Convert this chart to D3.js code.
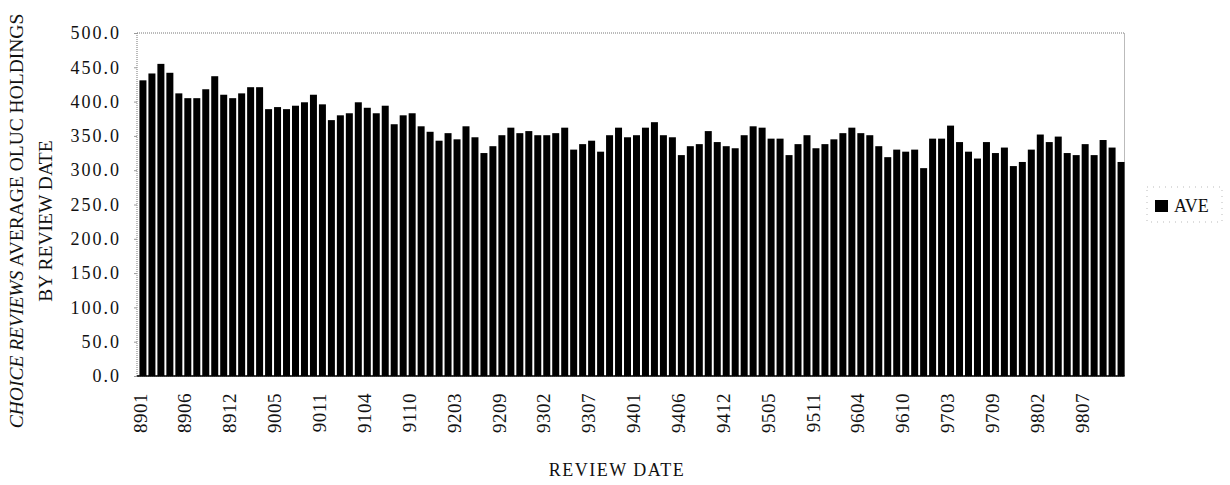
<!DOCTYPE html>
<html>
<head>
<meta charset="utf-8">
<script src="https://cdn.jsdelivr.net/npm/d3@7"></script>
<style>
  body { margin: 0; background: #fff; }
  text { font-family: "Liberation Serif", "DejaVu Serif", serif; fill: #111; }
</style>
</head>
<body>
<svg></svg>
<script>
// review dates (Choice issues, 11 per year, no August issue)
const dates = [
    "8901","8902","8903","8904","8905","8906","8907","8909","8910","8911","8912",
    "9001","9002","9003","9004","9005","9006","9007","9009","9010","9011","9012",
    "9101","9102","9103","9104","9105","9106","9107","9109","9110","9111","9112",
    "9201","9202","9203","9204","9205","9206","9207","9209","9210","9211","9212",
    "9301","9302","9303","9304","9305","9306","9307","9309","9310","9311","9312",
    "9401","9402","9403","9404","9405","9406","9407","9409","9410","9411","9412",
    "9501","9502","9503","9504","9505","9506","9507","9509","9510","9511","9512",
    "9601","9602","9603","9604","9605","9606","9607","9609","9610","9611","9612",
    "9701","9702","9703","9704","9705","9706","9707","9709","9710","9711","9712",
    "9801","9802","9803","9804","9805","9806","9807","9809","9810","9811","9812"
];

// average OLUC holdings (AVE)
const ave = [
    431, 441, 455, 442, 412, 405, 405, 418, 437, 410,
    405, 412, 421, 421, 389, 392, 389, 394, 399, 410,
    396, 373, 380, 383, 399, 391, 383, 394, 367, 380,
    383, 364, 356, 343, 354, 345, 364, 348, 325, 335,
    351, 362, 354, 357, 351, 351, 354, 362, 330, 338,
    343, 327, 351, 362, 348, 351, 362, 370, 351, 348,
    322, 335, 338, 357, 341, 335, 332, 351, 364, 362,
    346, 346, 322, 338, 351, 332, 338, 345, 354, 362,
    354, 351, 335, 319, 330, 327, 330, 303, 346, 346,
    365, 341, 327, 317, 341, 325, 333, 306, 312, 330,
    352, 341, 349, 325, 322, 338, 322, 344, 333, 312
];

const xTickLabels = ["8901","8906","8912","9005","9011","9104","9110","9203","9209","9302","9307",
                     "9401","9406","9412","9505","9511","9604","9610","9703","9709","9802","9807"];
const yTicks = [0, 50, 100, 150, 200, 250, 300, 350, 400, 450, 500];

const data = dates.map((d, i) => ({ date: d, value: ave[i] }));

const width = 1230, height = 485;
const plot = { left: 137, right: 1124.5, top: 33, bottom: 376 };

const svg = d3.select("svg")
    .attr("width", width)
    .attr("height", height);

const x = d3.scaleBand()
    .domain(dates)
    .range([139, 1125])
    .paddingInner(0.22)
    .paddingOuter(0.05);

const y = d3.scaleLinear()
    .domain([0, 500])
    .range([plot.bottom, plot.top]);

// plot frame (dotted grey)
svg.append("rect")
    .attr("x", plot.left)
    .attr("y", plot.top)
    .attr("width", plot.right - plot.left)
    .attr("height", plot.bottom - plot.top)
    .attr("fill", "none")
    .attr("stroke", "#777")
    .attr("stroke-width", 1)
    .attr("stroke-dasharray", "1,1");

// bars
svg.append("g")
    .selectAll("rect")
    .data(data)
    .enter()
    .append("rect")
    .attr("x", d => x(d.date))
    .attr("y", d => y(d.value))
    .attr("width", x.bandwidth())
    .attr("height", d => y(0) - y(d.value))
    .attr("fill", "#000");

// y axis
const yAxis = svg.append("g")
    .attr("transform", `translate(${plot.left},0)`)
    .call(d3.axisLeft(y).tickValues(yTicks).tickSize(3).tickFormat(d3.format(".1f")));
yAxis.select(".domain").remove();
yAxis.selectAll(".tick line").attr("stroke", "#999");
yAxis.selectAll(".tick text")
    .attr("x", -16)
    .attr("font-size", "18px")
    .attr("letter-spacing", "2px")
    .attr("font-family", "Liberation Serif");

// x axis
const xAxis = svg.append("g")
    .attr("transform", `translate(0,${plot.bottom})`)
    .call(d3.axisBottom(x).tickValues(xTickLabels).tickSize(0));
xAxis.select(".domain").attr("stroke", "#000").attr("stroke-width", 1.5)
    .attr("d", `M${plot.left},0H${plot.right}`);
xAxis.selectAll(".tick text")
    .attr("transform", "rotate(-90)")
    .attr("text-anchor", "end")
    .attr("x", -17)
    .attr("y", -3)
    .attr("dy", "0.35em")
    .attr("font-size", "19px")
    .attr("letter-spacing", "0.5px")
    .attr("font-family", "Liberation Serif");

// axis titles
svg.append("text")
    .attr("x", 617)
    .attr("y", 476)
    .attr("text-anchor", "middle")
    .attr("font-size", "18px")
    .attr("letter-spacing", "1.5px")
    .text("REVIEW DATE");

const yTitle = svg.append("text")
    .attr("transform", "translate(23,221) rotate(-90)")
    .attr("text-anchor", "middle")
    .attr("font-size", "19.5px");
yTitle.append("tspan").attr("font-style", "italic").text("CHOICE REVIEWS");
yTitle.append("tspan").text(" AVERAGE OLUC HOLDINGS");

svg.append("text")
    .attr("transform", "translate(52,221) rotate(-90)")
    .attr("text-anchor", "middle")
    .attr("font-size", "19.5px")
    .text("BY REVIEW DATE");

// legend
const legend = svg.append("g");
legend.append("rect")
    .attr("x", 1147).attr("y", 187)
    .attr("width", 75).attr("height", 35)
    .attr("fill", "none")
    .attr("stroke", "#bbb")
    .attr("stroke-dasharray", "1,5");
legend.append("rect")
    .attr("x", 1155).attr("y", 200)
    .attr("width", 13).attr("height", 12)
    .attr("fill", "#000");
legend.append("text")
    .attr("x", 1174).attr("y", 212)
    .attr("font-size", "18px")
    .text("AVE");
</script>
</body>
</html>
